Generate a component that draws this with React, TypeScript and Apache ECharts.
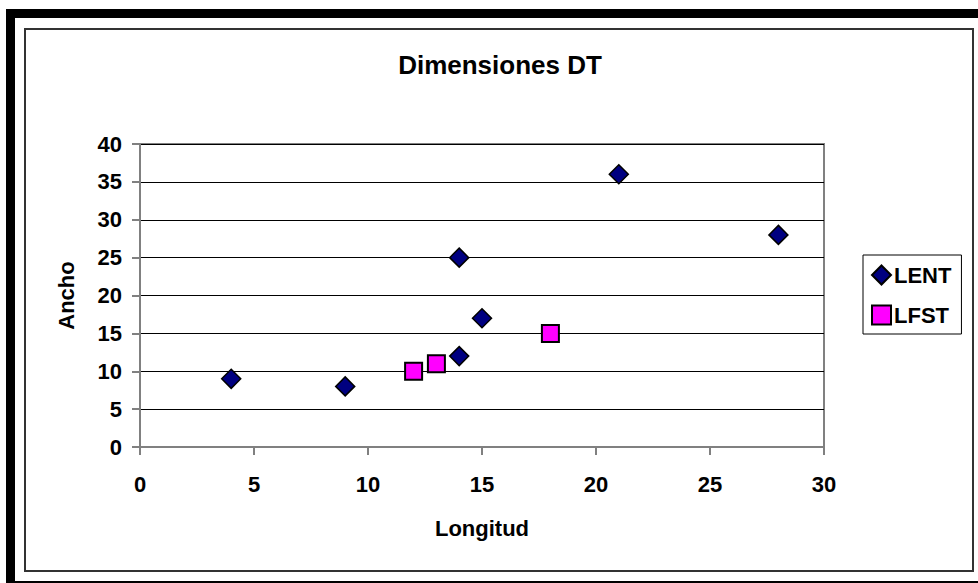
import React, { useEffect, useRef } from "react";
import * as echarts from "echarts";

const title = "Dimensiones DT";
const xName = "Longitud";
const yName = "Ancho";
const lentX = [4, 9, 14, 14, 15, 21, 28];
const lentY = [9, 8, 12, 25, 17, 36, 28];
const lfstX = [12, 13, 18];
const lfstY = [10, 11, 15];
const seriesNames = ["LENT", "LFST"];

const FONT = "Liberation Sans, Arial, sans-serif";

export default function App() {
  const ref = useRef<HTMLDivElement>(null);
  useEffect(() => {
    if (!ref.current) return;
    const chart = echarts.init(ref.current, undefined, { renderer: "svg" });
    const lent = lentX.map((x, i) => [x, lentY[i]]);
    const lfst = lfstX.map((x, i) => [x, lfstY[i]]);
    chart.setOption({
      animation: false,
      backgroundColor: "#ffffff",
      textStyle: { fontFamily: FONT },
      graphic: [
        { type: "rect", shape: { x: 6, y: 9, width: 972, height: 9 }, style: { fill: "#000" } },
        { type: "rect", shape: { x: 6, y: 9, width: 9, height: 574 }, style: { fill: "#000" } },
        { type: "rect", shape: { x: 6, y: 581, width: 972, height: 2 }, style: { fill: "#000" } },
        { type: "rect", shape: { x: 25, y: 29, width: 948, height: 542 }, style: { fill: "none", stroke: "#333", lineWidth: 2 } },
      ],
      title: {
        text: title,
        left: 495,
        top: 47,
        textAlign: "center",
        textStyle: { fontSize: 26, fontWeight: "bold", color: "#000", fontFamily: FONT },
      },
      legend: {
        orient: "vertical",
        left: 863,
        top: 255,
        width: 102,
        padding: [9, 10, 8, 8],
        itemGap: 18,
        itemWidth: 19,
        itemHeight: 19,
        borderColor: "#000",
        borderWidth: 1,
        backgroundColor: "#fff",
        textStyle: { fontSize: 22, fontWeight: "bold", color: "#000", fontFamily: FONT, padding: [0, 0, 0, -2] },
        data: [
          { name: seriesNames[0], icon: "diamond" },
          { name: seriesNames[1], icon: "rect" },
        ],
      },
      grid: { left: 140, top: 144, right: 154, bottom: 136, show: true, borderColor: "#808080", borderWidth: 2, backgroundColor: "#fff" },
      xAxis: {
        type: "value",
        min: 0,
        max: 30,
        interval: 5,
        name: xName,
        nameLocation: "middle",
        nameGap: 70,
        nameTextStyle: { fontSize: 22, fontWeight: "bold", color: "#000", fontFamily: FONT },
        axisLine: { show: true, onZero: false, lineStyle: { color: "#808080", width: 2 } },
        axisTick: { show: true, length: 8, lineStyle: { color: "#808080", width: 2 } },
        axisLabel: { fontSize: 22, fontWeight: "bold", color: "#000", margin: 26, fontFamily: FONT },
        splitLine: { show: false },
      },
      yAxis: {
        type: "value",
        min: 0,
        max: 40,
        interval: 5,
        name: yName,
        nameLocation: "middle",
        nameGap: 63,
        nameTextStyle: { fontSize: 22, fontWeight: "bold", color: "#000", fontFamily: FONT },
        axisLine: { show: true, onZero: false, lineStyle: { color: "#808080", width: 2 } },
        axisTick: { show: true, length: 8, lineStyle: { color: "#808080", width: 2 } },
        axisLabel: { fontSize: 22, fontWeight: "bold", color: "#000", margin: 18, fontFamily: FONT },
        splitLine: { show: true, lineStyle: { color: "#000", width: 1 } },
      },
      series: [
        {
          name: seriesNames[0],
          type: "scatter",
          data: lent,
          symbol: "diamond",
          symbolSize: 19,
          itemStyle: { color: "#000080", borderColor: "#000", borderWidth: 1.5, opacity: 1 },
        },
        {
          name: seriesNames[1],
          type: "scatter",
          data: lfst,
          symbol: "rect",
          symbolSize: 17,
          itemStyle: { color: "#ff00ff", borderColor: "#000", borderWidth: 2, opacity: 1 },
        },
      ],
    });
    return () => chart.dispose();
  }, []);
  return (
    <div style={{ position: "fixed", left: 0, top: 0, width: 978, height: 583, background: "#fff" }}>
      <div ref={ref} style={{ width: 978, height: 583 }} />
    </div>
  );
}
